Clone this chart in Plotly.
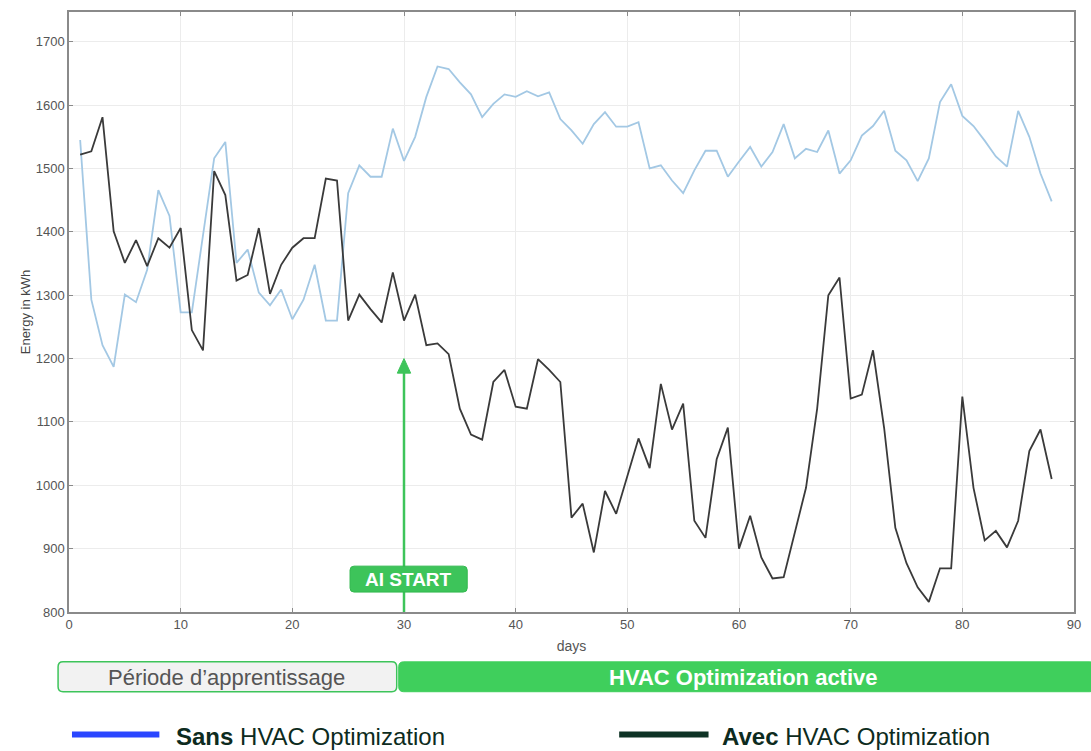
import plotly.graph_objects as go

days = list(range(1, 89))

sans_hvac = [
    1545, 1293, 1221, 1187, 1301, 1289, 1340, 1466, 1425, 1273,
    1273, 1398, 1516, 1542, 1351, 1372, 1304, 1284, 1309, 1262,
    1293, 1348, 1260, 1260, 1461, 1505, 1487, 1487, 1563, 1512,
    1550, 1613, 1661, 1657, 1636, 1617, 1581, 1602, 1617, 1613,
    1622, 1614, 1620, 1578, 1560, 1539, 1570, 1589, 1566, 1566,
    1573, 1500, 1505, 1481, 1461, 1497, 1528, 1528, 1487, 1511,
    1534, 1503, 1526, 1570, 1516, 1531, 1526, 1560, 1492, 1513,
    1552, 1567, 1591, 1528, 1513, 1480, 1516, 1605, 1633, 1583,
    1567, 1544, 1519, 1503, 1591, 1550, 1492, 1448,
]

avec_hvac = [
    1522, 1527, 1581, 1401, 1351, 1387, 1346, 1390, 1375, 1406,
    1245, 1213, 1496, 1458, 1323, 1332, 1406, 1302, 1348, 1375,
    1390, 1390, 1484, 1481, 1260, 1301, 1278, 1257, 1336, 1260,
    1301, 1221, 1224, 1207, 1121, 1080, 1072, 1163, 1182, 1124,
    1121, 1199, 1182, 1163, 949, 971, 894, 991, 955, 1015,
    1074, 1027, 1160, 1088, 1129, 944, 917, 1041, 1091, 900,
    952, 886, 853, 855, 924, 996, 1121, 1300, 1328, 1137,
    1143, 1213, 1090, 933, 877, 839, 816, 869, 869, 1140,
    996, 913, 928, 902, 944, 1054, 1088, 1010,
]

x_ticks = [0, 10, 20, 30, 40, 50, 60, 70, 80, 90]
y_ticks = [800, 900, 1000, 1100, 1200, 1300, 1400, 1500, 1600, 1700]
ai_start_day = 30

W, H = 1091, 751
L, R, T, B = 69, 10, 10, 139
PW, PH = W - L - R, H - T - B
FONT = "Arial, Liberation Sans, sans-serif"


def px(x):
    return (x - L) / PW


def py(y):
    return (H - B - y) / PH


def rounded_rect(x0, y0, x1, y1, r):
    pts = [
        f"M {px(x0 + r)},{py(y0)}",
        f"L {px(x1 - r)},{py(y0)}",
        f"Q {px(x1)},{py(y0)} {px(x1)},{py(y0 + r)}",
        f"L {px(x1)},{py(y1 - r)}",
        f"Q {px(x1)},{py(y1)} {px(x1 - r)},{py(y1)}",
        f"L {px(x0 + r)},{py(y1)}",
        f"Q {px(x0)},{py(y1)} {px(x0)},{py(y1 - r)}",
        f"L {px(x0)},{py(y0 + r)}",
        f"Q {px(x0)},{py(y0)} {px(x0 + r)},{py(y0)}",
        "Z",
    ]
    return " ".join(pts)


fig = go.Figure()
fig.add_trace(go.Scatter(x=days, y=sans_hvac, mode="lines",
                         line=dict(color="#a3c8e4", width=1.8),
                         name="Sans HVAC Optimization", showlegend=False))
fig.add_trace(go.Scatter(x=days, y=avec_hvac, mode="lines",
                         line=dict(color="#3a3a3a", width=1.8),
                         name="Avec HVAC Optimization", showlegend=False))

green = "#3dc45a"
shapes = []
shapes.append(dict(type="line", xref="x", yref="y", x0=ai_start_day, x1=ai_start_day,
                   y0=800, y1=1180, line=dict(color=green, width=2.5), layer="above"))
shapes.append(dict(type="path", xref="x", yref="y",
                   path=f"M {ai_start_day - 0.6},1177 L {ai_start_day},1200 L {ai_start_day + 0.6},1177 Z",
                   fillcolor=green, line=dict(color=green, width=1), layer="above"))
shapes.append(dict(type="path", xref="paper", yref="paper",
                   path=rounded_rect(352, 566, 470, 592, 4),
                   fillcolor=green, line=dict(color="#32b84e", width=1), layer="above"))
shapes.append(dict(type="path", xref="paper", yref="paper",
                   path=rounded_rect(58, 662, 399, 692, 5),
                   fillcolor="#f2f2f2", line=dict(color=green, width=1.5), layer="above"))
shapes.append(dict(type="path", xref="paper", yref="paper",
                   path=rounded_rect(401, 662, 1102, 692, 5),
                   fillcolor="#3fcf5c", line=dict(color="#3fcf5c", width=1), layer="above"))
shapes.append(dict(type="line", xref="paper", yref="paper", x0=px(72), x1=px(160),
                   y0=py(735), y1=py(735), line=dict(color="#2a46ff", width=6), layer="above"))
shapes.append(dict(type="line", xref="paper", yref="paper", x0=px(623), x1=px(713),
                   y0=py(735), y1=py(735), line=dict(color="#0e3325", width=6), layer="above"))

annotations = [
    dict(xref="paper", yref="paper", x=px(411), y=py(579), text="<b>AI START</b>",
         showarrow=False, font=dict(family=FONT, size=19, color="white"),
         xanchor="center", yanchor="middle"),
    dict(xref="paper", yref="paper", x=px(228), y=py(678), text="Période d’apprentissage",
         showarrow=False, font=dict(family=FONT, size=22, color="#555555"),
         xanchor="center", yanchor="middle"),
    dict(xref="paper", yref="paper", x=px(748), y=py(678), text="<b>HVAC Optimization active</b>",
         showarrow=False, font=dict(family=FONT, size=22, color="white"),
         xanchor="center", yanchor="middle"),
    dict(xref="paper", yref="paper", x=px(175), y=py(737), text="<b>Sans</b> HVAC Optimization",
         showarrow=False, font=dict(family=FONT, size=24, color="#0d2b20"),
         xanchor="left", yanchor="middle"),
    dict(xref="paper", yref="paper", x=px(725), y=py(737), text="<b>Avec</b> HVAC Optimization",
         showarrow=False, font=dict(family=FONT, size=24, color="#0d2b20"),
         xanchor="left", yanchor="middle"),
]

axis_common = dict(showgrid=True, gridcolor="#ececec", gridwidth=1,
                   showline=True, linecolor="#8a8a8a", linewidth=1.5, mirror="ticks",
                   ticks="inside", ticklen=4, tickcolor="#8a8a8a", zeroline=False,
                   tickfont=dict(family=FONT, size=13, color="#555555"))

fig.update_layout(
    width=W, height=H,
    margin=dict(l=L, r=R, t=T, b=B),
    plot_bgcolor="white", paper_bgcolor="white",
    xaxis=dict(range=[0, 90], tickvals=x_ticks,
               title=dict(text="days", font=dict(family=FONT, size=14, color="#555555"), standoff=10),
               **axis_common),
    yaxis=dict(range=[800, 1747], tickvals=y_ticks,
               title=dict(text="Energy in kWh", font=dict(family=FONT, size=13, color="#444444"), standoff=2),
               **axis_common),
    shapes=shapes,
    annotations=annotations,
    showlegend=False,
)

fig.write_html("out.html", config={"displayModeBar": False},
               post_script="document.body.style.margin='0';document.body.style.overflow='hidden';")
